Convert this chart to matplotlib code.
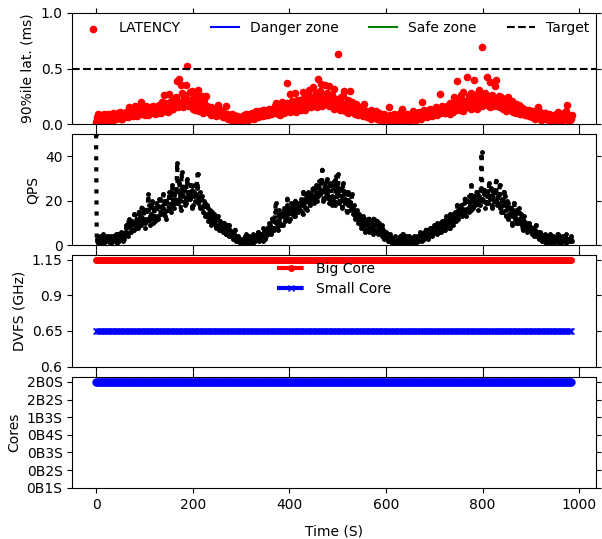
import matplotlib
matplotlib.use("Agg")
import matplotlib.pyplot as plt
import numpy as np

# sampled every 3 s, 0..984, plus a second sample half way between
time_s = np.arange(329) * 3
time_half = time_s + 1.5

qps = [
    50, 2, 3, 1, 4, 2, 3, 2, 4, 3, 1, 3, 4, 2, 3, 5, 2, 3, 4, 3,
    5, 8, 4, 9, 6, 11, 7, 10, 12, 8, 13, 9, 11, 15, 10, 12, 23, 9, 14, 13,
    16, 11, 18, 13, 21, 15, 17, 20, 12, 19, 16, 22, 18, 20, 23, 19, 37, 21, 24, 33,
    22, 26, 19, 28, 24, 21, 25, 18, 27, 23, 32, 20, 17, 22, 15, 19, 14, 17, 13, 12,
    15, 10, 11, 8, 13, 9, 7, 10, 6, 8, 5, 7, 9, 4, 6, 3, 7, 2, 4, 1,
    3, 2, 1, 4, 2, 3, 1, 2, 5, 3, 2, 4, 6, 3, 5, 2, 7, 4, 8, 6,
    9, 5, 11, 7, 19, 8, 12, 10, 14, 9, 15, 13, 21, 11, 16, 14, 18, 13, 17, 15,
    19, 16, 18, 24, 17, 20, 22, 19, 23, 21, 25, 20, 27, 22, 26, 24, 34, 21, 28, 23,
    25, 19, 27, 22, 29, 18, 24, 32, 20, 26, 17, 23, 21, 15, 24, 19, 22, 14, 18, 12,
    16, 10, 13, 8, 11, 9, 7, 12, 6, 10, 8, 5, 9, 7, 11, 6, 8, 4, 7, 5,
    6, 3, 2, 4, 1, 3, 2, 1, 3, 2, 4, 1, 3, 2, 1, 2, 4, 3, 1, 2,
    3, 2, 4, 3, 5, 2, 6, 4, 7, 3, 5, 8, 4, 6, 9, 5, 7, 10, 6, 8,
    11, 7, 9, 12, 8, 10, 14, 11, 13, 18, 12, 15, 17, 14, 19, 16, 20, 15, 18, 27,
    17, 21, 19, 23, 22, 18, 42, 20, 25, 19, 22, 28, 21, 18, 24, 20, 29, 19, 23, 17,
    21, 15, 22, 13, 19, 14, 17, 9, 16, 12, 14, 10, 17, 11, 9, 13, 8, 10, 7, 9,
    6, 8, 5, 7, 4, 6, 3, 5, 2, 4, 3, 2, 4, 1, 3, 2, 1, 3, 2, 4,
    2, 1, 3, 2, 5, 2, 3, 2, 3,
]

qps_half = [
    3, 1, 4, 2, 5, 1, 3, 4, 2, 1, 4, 2, 3, 5, 1, 4, 3, 6, 2, 4,
    9, 5, 12, 6, 10, 7, 14, 8, 11, 15, 9, 17, 12, 8, 16, 11, 18, 13, 20, 10,
    13, 19, 12, 21, 14, 17, 23, 13, 20, 16, 24, 15, 27, 17, 21, 25, 19, 28, 16, 26,
    25, 18, 30, 21, 23, 27, 17, 24, 20, 26, 19, 24, 21, 15, 20, 13, 18, 11, 16, 9,
    12, 14, 9, 12, 7, 11, 8, 6, 10, 5, 9, 4, 7, 6, 3, 5, 2, 4, 3, 2,
    1, 3, 2, 5, 1, 4, 2, 3, 1, 4, 3, 6, 2, 5, 4, 8, 3, 6, 5, 10,
    6, 12, 8, 15, 10, 7, 16, 9, 13, 17, 11, 18, 14, 12, 19, 16, 13, 20, 15, 18,
    16, 21, 14, 20, 23, 16, 24, 18, 21, 26, 19, 24, 20, 29, 23, 28, 20, 25, 22, 30,
    21, 28, 18, 26, 20, 31, 22, 19, 25, 21, 28, 19, 24, 18, 20, 16, 23, 17, 13, 15,
    12, 14, 9, 11, 13, 6, 10, 8, 12, 7, 10, 12, 6, 9, 5, 10, 6, 9, 3, 6,
    4, 2, 5, 2, 3, 1, 4, 2, 1, 3, 2, 5, 1, 3, 4, 2, 1, 3, 2, 4,
    1, 4, 2, 6, 3, 5, 3, 7, 5, 4, 8, 6, 5, 9, 6, 10, 8, 6, 11, 7,
    9, 13, 10, 8, 14, 12, 9, 15, 11, 16, 14, 18, 13, 16, 21, 13, 17, 22, 16, 20,
    22, 18, 24, 16, 20, 26, 21, 23, 17, 24, 19, 22, 26, 17, 20, 25, 18, 22, 27, 15,
    18, 24, 16, 20, 12, 17, 15, 13, 19, 10, 16, 12, 10, 14, 7, 11, 9, 6, 10, 8,
    5, 7, 4, 9, 5, 3, 6, 2, 4, 5, 1, 3, 2, 5, 2, 4, 3, 2, 5, 1,
    3, 4, 2, 4, 1, 3, 2, 4, 2,
]

latency = [
    0.02, 0.06, 0.03, 0.08, 0.05, 0.04, 0.07, 0.03, 0.09, 0.05, 0.06, 0.08, 0.04, 0.07, 0.05, 0.10, 0.06, 0.08, 0.05, 0.09,
    0.07, 0.11, 0.06, 0.15, 0.08, 0.12, 0.09, 0.16, 0.07, 0.13, 0.10, 0.20, 0.09, 0.14, 0.11, 0.13, 0.08, 0.15, 0.10, 0.12,
    0.14, 0.09, 0.13, 0.11, 0.16, 0.10, 0.15, 0.26, 0.12, 0.17, 0.27, 0.13, 0.18, 0.14, 0.21, 0.16, 0.39, 0.41, 0.19, 0.28,
    0.15, 0.24, 0.35, 0.52, 0.18, 0.22, 0.30, 0.14, 0.28, 0.20, 0.31, 0.12, 0.17, 0.25, 0.10, 0.15, 0.25, 0.11, 0.14, 0.08,
    0.12, 0.09, 0.13, 0.07, 0.17, 0.10, 0.08, 0.12, 0.06, 0.09, 0.16, 0.05, 0.08, 0.04, 0.07, 0.03, 0.06, 0.02, 0.05, 0.04,
    0.06, 0.03, 0.08, 0.05, 0.07, 0.04, 0.09, 0.06, 0.10, 0.05, 0.08, 0.11, 0.06, 0.12, 0.09, 0.07, 0.13, 0.08, 0.11, 0.10,
    0.12, 0.09, 0.14, 0.10, 0.19, 0.11, 0.15, 0.08, 0.13, 0.17, 0.10, 0.14, 0.37, 0.16, 0.27, 0.12, 0.15, 0.28, 0.11, 0.18,
    0.14, 0.22, 0.16, 0.29, 0.13, 0.25, 0.17, 0.31, 0.15, 0.21, 0.33, 0.18, 0.24, 0.41, 0.20, 0.36, 0.16, 0.26, 0.35, 0.19,
    0.22, 0.34, 0.17, 0.25, 0.14, 0.20, 0.18, 0.63, 0.13, 0.24, 0.16, 0.30, 0.12, 0.19, 0.10, 0.30, 0.15, 0.11, 0.14, 0.09,
    0.13, 0.08, 0.12, 0.10, 0.07, 0.18, 0.09, 0.06, 0.11, 0.08, 0.05, 0.10, 0.07, 0.12, 0.06, 0.09, 0.04, 0.08, 0.05, 0.07,
    0.03, 0.06, 0.15, 0.04, 0.07, 0.02, 0.05, 0.08, 0.03, 0.06, 0.04, 0.14, 0.05, 0.03, 0.07, 0.04, 0.06, 0.08, 0.05, 0.12,
    0.07, 0.04, 0.09, 0.06, 0.08, 0.20, 0.10, 0.07, 0.12, 0.09, 0.11, 0.08, 0.13, 0.10, 0.09, 0.14, 0.11, 0.27, 0.12, 0.15,
    0.13, 0.10, 0.16, 0.12, 0.19, 0.14, 0.17, 0.24, 0.15, 0.39, 0.18, 0.13, 0.26, 0.29, 0.20, 0.16, 0.42, 0.25, 0.19, 0.28,
    0.22, 0.40, 0.17, 0.27, 0.21, 0.18, 0.69, 0.23, 0.19, 0.26, 0.42, 0.20, 0.38, 0.24, 0.16, 0.22, 0.40, 0.18, 0.25, 0.15,
    0.20, 0.14, 0.23, 0.12, 0.18, 0.16, 0.13, 0.21, 0.11, 0.15, 0.10, 0.14, 0.12, 0.09, 0.13, 0.11, 0.08, 0.12, 0.10, 0.07,
    0.09, 0.06, 0.11, 0.05, 0.08, 0.15, 0.07, 0.04, 0.09, 0.06, 0.10, 0.05, 0.07, 0.03, 0.08, 0.06, 0.04, 0.09, 0.05, 0.07,
    0.04, 0.08, 0.05, 0.10, 0.06, 0.17, 0.03, 0.07, 0.05,
]

latency_half = [
    0.04, 0.09, 0.02, 0.05, 0.07, 0.09, 0.04, 0.06, 0.05, 0.08, 0.03, 0.10, 0.07, 0.09, 0.06, 0.08, 0.11, 0.05, 0.07, 0.06,
    0.10, 0.08, 0.13, 0.09, 0.11, 0.07, 0.14, 0.10, 0.12, 0.09, 0.15, 0.11, 0.13, 0.08, 0.16, 0.12, 0.14, 0.10, 0.13, 0.16,
    0.11, 0.15, 0.10, 0.17, 0.13, 0.20, 0.12, 0.14, 0.19, 0.11, 0.15, 0.21, 0.14, 0.23, 0.17, 0.24, 0.15, 0.20, 0.35, 0.17,
    0.26, 0.19, 0.23, 0.16, 0.29, 0.21, 0.17, 0.26, 0.13, 0.22, 0.18, 0.25, 0.14, 0.19, 0.22, 0.12, 0.16, 0.13, 0.10, 0.15,
    0.09, 0.14, 0.11, 0.10, 0.08, 0.13, 0.11, 0.06, 0.10, 0.07, 0.09, 0.08, 0.06, 0.09, 0.05, 0.08, 0.04, 0.07, 0.03, 0.06,
    0.04, 0.07, 0.05, 0.09, 0.06, 0.08, 0.05, 0.10, 0.07, 0.09, 0.12, 0.08, 0.10, 0.07, 0.11, 0.13, 0.09, 0.12, 0.08, 0.14,
    0.10, 0.13, 0.11, 0.16, 0.12, 0.09, 0.17, 0.13, 0.20, 0.12, 0.16, 0.19, 0.14, 0.11, 0.18, 0.21, 0.13, 0.17, 0.22, 0.15,
    0.19, 0.13, 0.23, 0.18, 0.20, 0.15, 0.27, 0.19, 0.24, 0.17, 0.22, 0.28, 0.15, 0.21, 0.30, 0.17, 0.25, 0.19, 0.23, 0.28,
    0.16, 0.20, 0.26, 0.15, 0.32, 0.19, 0.23, 0.17, 0.21, 0.14, 0.25, 0.18, 0.15, 0.22, 0.17, 0.13, 0.20, 0.16, 0.12, 0.18,
    0.10, 0.15, 0.09, 0.13, 0.11, 0.08, 0.12, 0.10, 0.07, 0.13, 0.06, 0.09, 0.11, 0.05, 0.08, 0.10, 0.06, 0.05, 0.09, 0.04,
    0.06, 0.04, 0.08, 0.05, 0.03, 0.09, 0.06, 0.04, 0.07, 0.10, 0.05, 0.08, 0.03, 0.06, 0.09, 0.05, 0.07, 0.04, 0.10, 0.06,
    0.09, 0.06, 0.11, 0.08, 0.05, 0.10, 0.13, 0.09, 0.06, 0.11, 0.14, 0.07, 0.10, 0.12, 0.15, 0.08, 0.13, 0.10, 0.16, 0.11,
    0.10, 0.15, 0.12, 0.17, 0.09, 0.14, 0.11, 0.19, 0.13, 0.16, 0.22, 0.14, 0.18, 0.12, 0.21, 0.17, 0.15, 0.23, 0.14, 0.20,
    0.17, 0.24, 0.14, 0.19, 0.31, 0.25, 0.16, 0.21, 0.28, 0.17, 0.23, 0.15, 0.20, 0.26, 0.19, 0.34, 0.16, 0.23, 0.19, 0.24,
    0.16, 0.22, 0.18, 0.15, 0.24, 0.13, 0.19, 0.16, 0.14, 0.18, 0.13, 0.17, 0.09, 0.15, 0.11, 0.14, 0.10, 0.08, 0.13, 0.11,
    0.07, 0.12, 0.08, 0.10, 0.06, 0.09, 0.11, 0.07, 0.05, 0.10, 0.08, 0.04, 0.09, 0.06, 0.05, 0.03, 0.08, 0.05, 0.11, 0.04,
    0.07, 0.03, 0.09, 0.06, 0.12, 0.08, 0.04, 0.06, 0.08,
]

target = 0.5
big_freq = [1.15] * len(time_s)
small_freq = [0.65] * len(time_s)

core_labels = ['0B1S', '0B2S', '0B3S', '0B4S', '1B3S', '2B2S', '2B0S']
core_config = ['2B0S'] * len(time_s)

dvfs_ticks = [0.4, 0.65, 0.9, 1.15]
dvfs_labels = ['0.6', '0.65', '0.9', '1.15']

fig, axes = plt.subplots(4, 1, sharex=True, figsize=(6.02, 5.39), dpi=100)
fig.subplots_adjust(left=0.12, right=0.99, top=0.976, bottom=0.095, hspace=0.09)
ax1, ax2, ax3, ax4 = axes

# interleave the two samples per step
all_t = np.column_stack([time_s, time_half]).ravel()
lat_v = np.column_stack([latency, latency_half]).ravel()
qps_v = np.column_stack([qps, qps_half]).ravel()

# latency
ax1.scatter(all_t, lat_v, s=20, c='red', label='LATENCY')
ax1.plot([], [], 'b-', label='Danger zone')
ax1.plot([], [], 'g-', label='Safe zone')
ax1.axhline(target, color='k', ls='--', label='Target')
ax1.set_ylim(0, 1.0)
ax1.set_yticks([0.0, 0.5, 1.0])
ax1.set_ylabel('90%ile lat. (ms)')
ax1.legend(loc='upper center', ncol=4, frameon=False, scatterpoints=1,
           columnspacing=2.2, borderaxespad=0.2)

# qps
ax2.plot(all_t, qps_v, color='k', ls=':', lw=3, marker='.', markersize=5)
ax2.set_ylim(0, 50)
ax2.set_yticks([0, 20, 40])
ax2.set_ylabel('QPS')

# dvfs
ax3.plot(time_s, big_freq, color='red', ls='-.', lw=3, marker='o', markersize=4, label='Big Core')
ax3.plot(time_s, small_freq, color='blue', ls='-.', lw=3, marker='x', markersize=4, label='Small Core')
ax3.set_ylim(0.4, 1.18)
ax3.set_yticks(dvfs_ticks)
ax3.set_yticklabels(dvfs_labels)
ax3.set_ylabel('DVFS (GHz)')
ax3.legend(loc='upper center', frameon=False, borderaxespad=0.1, labelspacing=0.4)

# cores
core_pos = [core_labels.index(c) for c in core_config]
ax4.plot(time_s, core_pos, color='blue', lw=3, marker='o', markersize=5)
ax4.set_ylim(0, 6.3)
ax4.set_yticks(range(len(core_labels)))
ax4.set_yticklabels(core_labels)
ax4.set_ylabel('Cores')
ax4.set_xlabel('Time (S)', labelpad=9)
ax4.set_xticks([0, 200, 400, 600, 800, 1000])

for ax in axes:
    ax.tick_params(direction='out', top=True, right=True)

plt.savefig('out.png')
